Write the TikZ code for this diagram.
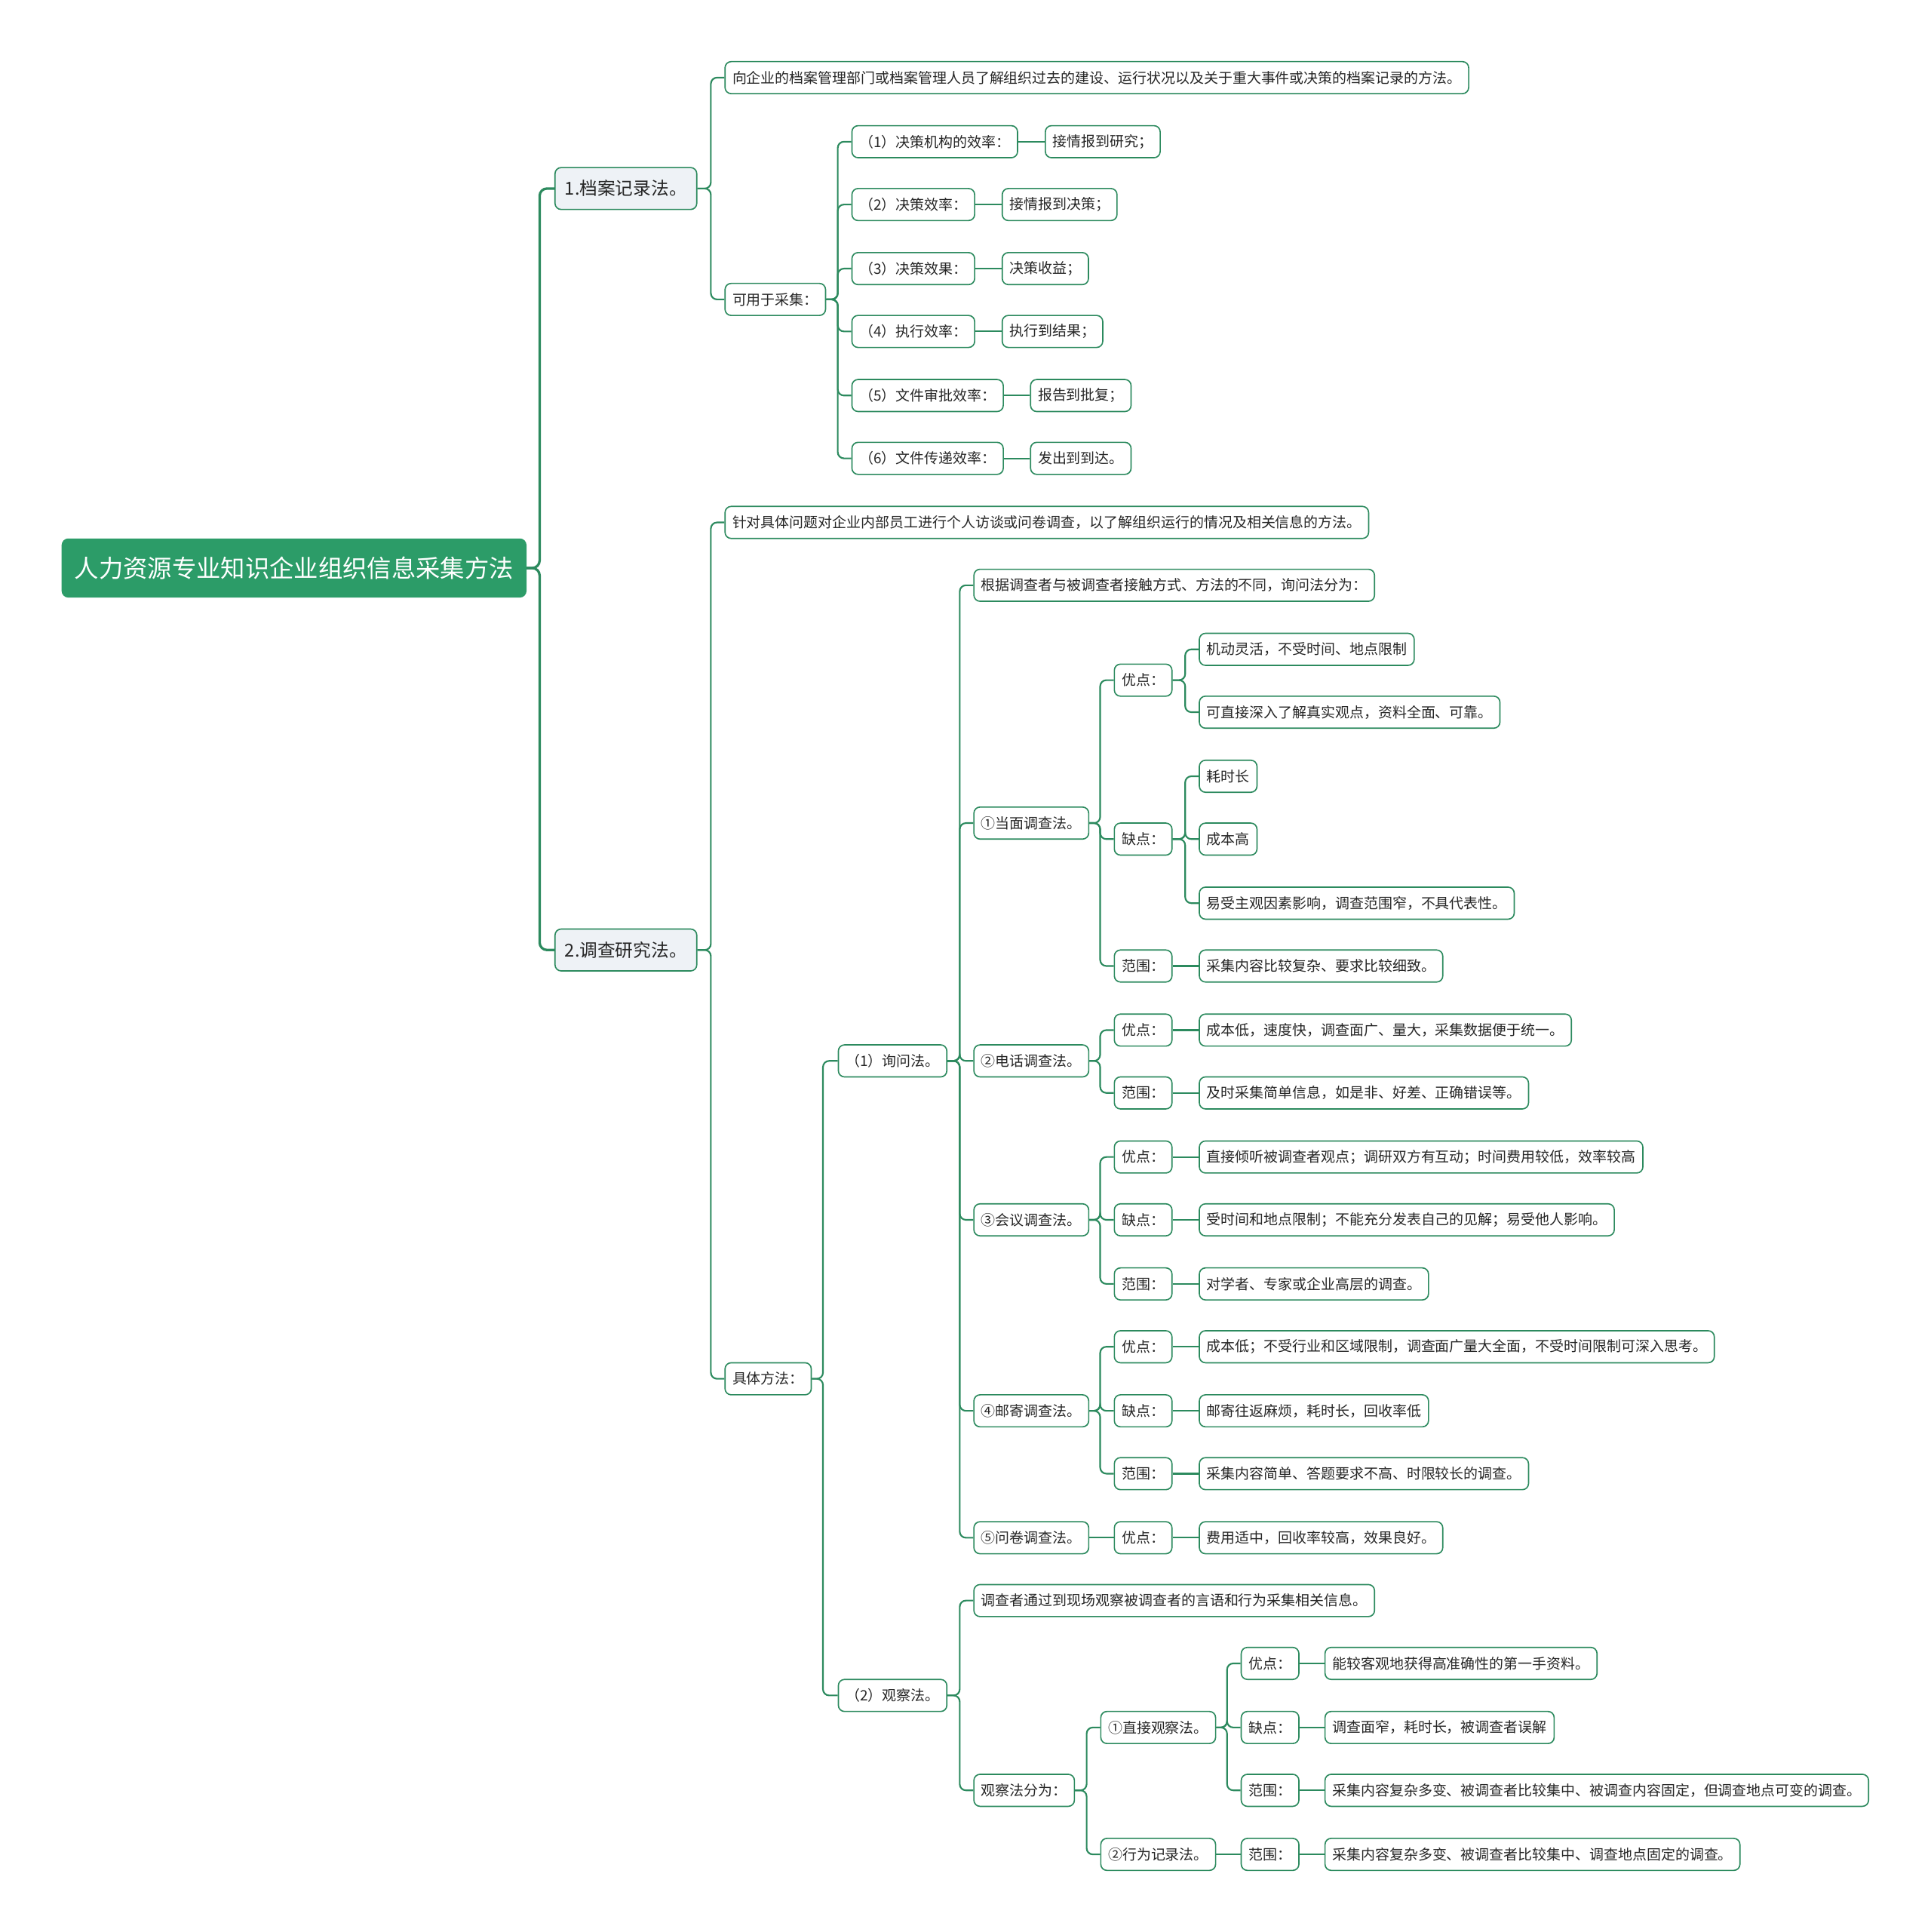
\documentclass[tikz,border=0pt]{standalone}
\usepackage{fontspec}
\newfontfamily\cjk{Noto Sans CJK SC}
\definecolor{lc}{RGB}{44,138,94}
\definecolor{rootfill}{RGB}{44,156,104}
\definecolor{lonefill}{RGB}{238,242,246}
\begin{document}
\begin{tikzpicture}[x=1pt,y=-1pt,
 box/.style={draw=lc, line width=1pt, rounded corners=5pt, fill=white,
   font=\cjk\fontsize{11.6}{13}\selectfont, inner xsep=6pt, inner ysep=0pt,
   minimum height=26pt, anchor=west, text=black!85},
 lone/.style={box, fill=lonefill, font=\cjk\fontsize{14.5}{17}\selectfont,
   minimum height=34pt, inner xsep=8pt},
 rootn/.style={box, fill=rootfill, draw=rootfill, text=white,
   font=\cjk\fontsize{19.8}{22}\selectfont, minimum height=47pt, inner xsep=10pt},
 edge/.style={draw=lc, line width=1.3pt, rounded corners=5pt},
 thickedge/.style={edge, line width=2pt, rounded corners=6pt},
]
\newcommand\myE[2]{\draw[edge] (#2.west) -- ++(-11,0) |- (#1.east);}
\newcommand\myS[2]{\draw[edge] (#1.east) -- (#2.west);}
\fill[white] (0,0) rectangle (1567,1568);
\useasboundingbox (0,0) rectangle (1567,1568);

% root and level 1
\node[rootn] (root) at (50,461) {人力资源专业知识企业组织信息采集方法};
\node[lone] (a) at (450,153) {1.档案记录法。};
\node[lone] (b) at (450,771) {2.调查研究法。};
\draw[thickedge] (a.west) -- ++(-12,0) |- (root.east);
\draw[thickedge] (b.west) -- ++(-12,0) |- (root.east);

% branch 1
\node[box] (a1) at (588,63) {向企业的档案管理部门或档案管理人员了解组织过去的建设、运行状况以及关于重大事件或决策的档案记录的方法。};
\node[box] (a2) at (588,243) {可用于采集：};
\myE{a}{a1}\myE{a}{a2}
\node[box] (p1) at (691,115) {（1）决策机构的效率：};
\node[box] (p2) at (691,166) {（2）决策效率：};
\node[box] (p3) at (691,218) {（3）决策效果：};
\node[box] (p4) at (691,269) {（4）执行效率：};
\node[box] (p5) at (691,321) {（5）文件审批效率：};
\node[box] (p6) at (691,372) {（6）文件传递效率：};
\myE{a2}{p1}\myE{a2}{p2}\myE{a2}{p3}\myE{a2}{p4}\myE{a2}{p5}\myE{a2}{p6}
\node[box] (v1) at (848,115) {接情报到研究；};
\node[box] (v2) at (813,166) {接情报到决策；};
\node[box] (v3) at (813,218) {决策收益；};
\node[box] (v4) at (813,269) {执行到结果；};
\node[box] (v5) at (836,321) {报告到批复；};
\node[box] (v6) at (836,372) {发出到到达。};
\myS{p1}{v1}\myS{p2}{v2}\myS{p3}{v3}\myS{p4}{v4}\myS{p5}{v5}\myS{p6}{v6}

% branch 2
\node[box] (b1) at (588,424) {针对具体问题对企业内部员工进行个人访谈或问卷调查，以了解组织运行的情况及相关信息的方法。};
\node[box] (b2) at (588,1119) {具体方法：};
\myE{b}{b1}\myE{b}{b2}
\node[box] (c1) at (680,861) {（1）询问法。};
\node[box] (c2) at (680,1376) {（2）观察法。};
\draw[edge] (c1.west) -- ++(-12,0) |- (b2.east);
\draw[edge] (c2.west) -- ++(-12,0) |- (b2.east);

% inquiry
\node[box] (d0) at (790,475) {根据调查者与被调查者接触方式、方法的不同，询问法分为：};
\node[box] (d1) at (790,668) {①当面调查法。};
\node[box] (d2) at (790,861) {②电话调查法。};
\node[box] (d3) at (790,990) {③会议调查法。};
\node[box] (d4) at (790,1145) {④邮寄调查法。};
\node[box] (d5) at (790,1248) {⑤问卷调查法。};
\myE{c1}{d0}\myE{c1}{d1}\myE{c1}{d2}\myE{c1}{d3}\myE{c1}{d4}\myE{c1}{d5}

\node[box] (e1) at (904,552) {优点：};
\node[box] (e2) at (904,681) {缺点：};
\node[box] (e3) at (904,784) {范围：};
\myE{d1}{e1}\myE{d1}{e2}\myE{d1}{e3}
\node[box] (f1) at (973,527) {机动灵活，不受时间、地点限制};
\node[box] (f2) at (973,578) {可直接深入了解真实观点，资料全面、可靠。};
\node[box] (f3) at (973,630) {耗时长};
\node[box] (f4) at (973,681) {成本高};
\node[box] (f5) at (973,733) {易受主观因素影响，调查范围窄，不具代表性。};
\node[box] (f6) at (973,784) {采集内容比较复杂、要求比较细致。};
\myE{e1}{f1}\myE{e1}{f2}\myE{e2}{f3}\myE{e2}{f4}\myE{e2}{f5}\myS{e3}{f6}

\node[box] (g1) at (904,836) {优点：};
\node[box] (g2) at (904,887) {范围：};
\myE{d2}{g1}\myE{d2}{g2}
\node[box] (h1) at (973,836) {成本低，速度快，调查面广、量大，采集数据便于统一。};
\node[box] (h2) at (973,887) {及时采集简单信息，如是非、好差、正确错误等。};
\myS{g1}{h1}\myS{g2}{h2}

\node[box] (g3) at (904,939) {优点：};
\node[box] (g4) at (904,990) {缺点：};
\node[box] (g5) at (904,1042) {范围：};
\myE{d3}{g3}\myE{d3}{g4}\myE{d3}{g5}
\node[box] (h3) at (973,939) {直接倾听被调查者观点；调研双方有互动；时间费用较低，效率较高};
\node[box] (h4) at (973,990) {受时间和地点限制；不能充分发表自己的见解；易受他人影响。};
\node[box] (h5) at (973,1042) {对学者、专家或企业高层的调查。};
\myS{g3}{h3}\myS{g4}{h4}\myS{g5}{h5}

\node[box] (g6) at (904,1093) {优点：};
\node[box] (g7) at (904,1145) {缺点：};
\node[box] (g8) at (904,1196) {范围：};
\myE{d4}{g6}\myE{d4}{g7}\myE{d4}{g8}
\node[box] (h6) at (973,1093) {成本低；不受行业和区域限制，调查面广量大全面，不受时间限制可深入思考。};
\node[box] (h7) at (973,1145) {邮寄往返麻烦，耗时长，回收率低};
\node[box] (h8) at (973,1196) {采集内容简单、答题要求不高、时限较长的调查。};
\myS{g6}{h6}\myS{g7}{h7}\myS{g8}{h8}

\node[box] (g9) at (904,1248) {优点：};
\myS{d5}{g9}
\node[box] (h9) at (973,1248) {费用适中，回收率较高，效果良好。};
\myS{g9}{h9}

% observation
\node[box] (k1) at (790,1299) {调查者通过到现场观察被调查者的言语和行为采集相关信息。};
\node[box] (k2) at (790,1453) {观察法分为：};
\myE{c2}{k1}\myE{c2}{k2}
\node[box] (m1) at (893,1402) {①直接观察法。};
\node[box] (m2) at (893,1505) {②行为记录法。};
\myE{k2}{m1}\myE{k2}{m2}
\node[box] (n1) at (1007,1350) {优点：};
\node[box] (n2) at (1007,1402) {缺点：};
\node[box] (n3) at (1007,1453) {范围：};
\myE{m1}{n1}\myE{m1}{n2}\myE{m1}{n3}
\node[box] (n4) at (1007,1505) {范围：};
\myS{m2}{n4}
\node[box] (o1) at (1075,1350) {能较客观地获得高准确性的第一手资料。};
\node[box] (o2) at (1075,1402) {调查面窄，耗时长，被调查者误解};
\node[box] (o3) at (1075,1453) {采集内容复杂多变、被调查者比较集中、被调查内容固定，但调查地点可变的调查。};
\node[box] (o4) at (1075,1505) {采集内容复杂多变、被调查者比较集中、调查地点固定的调查。};
\myS{n1}{o1}\myS{n2}{o2}\myS{n3}{o3}\myS{n4}{o4}
\end{tikzpicture}
\end{document}
